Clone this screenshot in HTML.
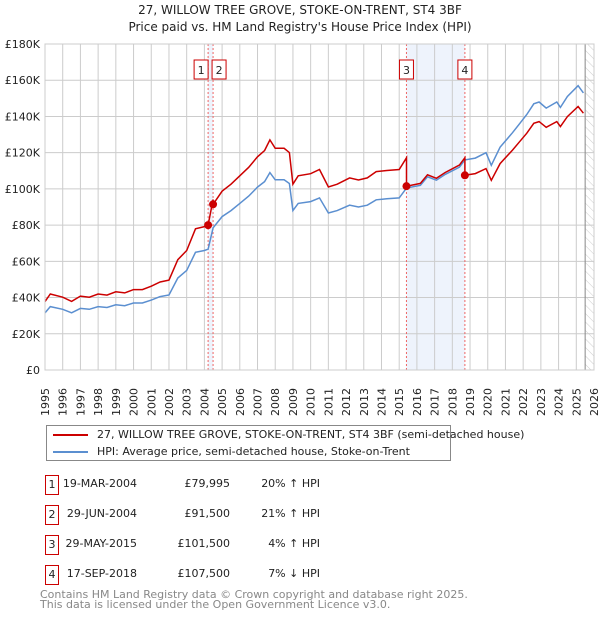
<!DOCTYPE html>
<html><head><meta charset="utf-8"><style>
body{margin:0;background:#fff;font-family:"Liberation Sans","DejaVu Sans",sans-serif;}
svg text{font-family:"DejaVu Sans","Liberation Sans",sans-serif;}
.tb div{white-space:nowrap}
</style></head><body>
<svg id="c" width="600" height="620" xmlns="http://www.w3.org/2000/svg">
<text x="300" y="14" text-anchor="middle" font-size="12" fill="#222">27, WILLOW TREE GROVE, STOKE-ON-TRENT, ST4 3BF</text>
<text x="300" y="31" text-anchor="middle" font-size="12" fill="#222">Price paid vs. HM Land Registry's House Price Index (HPI)</text>
<g id="grid"></g><g id="marks"></g>
</svg>
<script>
const years=[1995,1995.3,1996,1996.5,1997,1997.5,1998,1998.5,1999,1999.5,2000,2000.5,2001,2001.5,2002,2002.5,2003,2003.5,2004,2004.21,2004.49,2005,2005.5,2006,2006.5,2007,2007.4,2007.7,2008,2008.5,2008.8,2009,2009.3,2010,2010.5,2011,2011.5,2012.2,2012.7,2013.2,2013.7,2014.3,2015,2015.41,2016.2,2016.6,2017.1,2017.6,2018.4,2018.71,2019.3,2019.9,2020.2,2020.7,2021.4,2021.8,2022.2,2022.6,2022.9,2023.3,2023.9,2024.1,2024.5,2025.1,2025.4];
const hpi=[31.5,35,33.5,31.6,34,33.5,35,34.5,36,35.5,37,37,38.6,40.5,41.4,50.8,55,65,66,66.7,78.5,84.7,88,92,96,101,104,109,105,105,103,88,92,93,95,86.7,88,91,90,91,94,94.5,95,100.5,102,106.7,104.8,108,112,116,117,120,113,123,131,136,141,147,148,144.6,148,145,151,157,153];
const saleYears=[2004.21,2004.49,2015.41,2018.71];
const salePrices=[79995,91500,101500,107500];
const saleLabels=["1","2","3","4"];
const yTicks=[0,20000,40000,60000,80000,100000,120000,140000,160000,180000];
const yTickLabels=["£0","£20K","£40K","£60K","£80K","£100K","£120K","£140K","£160K","£180K"];
const xTicks=[];for(let y=1995;y<=2026;y++)xTicks.push(y);

const L=45,R=594,T=44,B=370,NS="http://www.w3.org/2000/svg";
const X=t=>L+(t-1995)/31*(R-L);
const Y=v=>B-v/180000*(B-T);
const svg=document.getElementById('c'),g=document.getElementById('grid'),m=document.getElementById('marks');
function el(tag,a,p){const e=document.createElementNS(NS,tag);for(const k in a)e.setAttribute(k,a[k]);(p||svg).appendChild(e);return e;}
function hpiAt(t){for(let i=0;i<years.length-1;i++)if(t<=years[i+1])return (hpi[i]+(hpi[i+1]-hpi[i])*(t-years[i])/(years[i+1]-years[i]))*1000;return hpi[hpi.length-1]*1000;}
let s1=el('rect',{x:X(saleYears[0]),y:T,width:X(saleYears[1])-X(saleYears[0]),height:B-T,fill:'#eef3fc'},g);

let s2=el('rect',{x:X(saleYears[2]),y:T,width:X(saleYears[3])-X(saleYears[2]),height:B-T,fill:'#eef3fc'},g);

let d=el('defs',{},g);let p=el('pattern',{id:'h',width:6,height:6,patternUnits:'userSpaceOnUse',patternTransform:'rotate(-45)'},d);el('line',{x1:0,y1:0,x2:0,y2:6,stroke:'#ccc','stroke-width':1},p);
let hz=el('rect',{x:X(2025.5),y:T,width:R-X(2025.5),height:B-T,fill:'url(#h)'},g);

xTicks.forEach(t=>{let l=el('line',{x1:X(t),x2:X(t),y1:T,y2:B,stroke:'#ccc'},g);

let tx=el('text',{x:0,y:0,transform:`translate(${X(t)+4},${416}) rotate(-90)`,'font-size':11,fill:'#222'});tx.textContent=t;
});
yTicks.forEach((v,i)=>{let l=el('line',{x1:L,x2:R,y1:Y(v),y2:Y(v),stroke:'#ccc'},g);

let tx=el('text',{x:40,y:Y(v)+4,'text-anchor':'end','font-size':11,fill:'#222'});tx.textContent=yTickLabels[i];
});
el('line',{x1:X(2025.5),x2:X(2025.5),y1:T,y2:B,stroke:'#888'},g);
saleYears.forEach((t,i)=>{let l=el('line',{x1:X(t),x2:X(t),y1:T,y2:B,stroke:'#e66','stroke-dasharray':'2,2'},m);

const off=i==0?-7:(i==1?6:0);
let r=el('rect',{x:X(t)-7+off,y:60,width:14,height:19,fill:'#fff',stroke:'#c00'},m);

let tx=el('text',{x:X(t)+off,y:74,'text-anchor':'middle','font-size':11,fill:'#222'},m);tx.textContent=saleLabels[i];
});
let bp=years.map((t,i)=>X(t).toFixed(1)+','+Y(hpi[i]*1000).toFixed(1)).join(' ');
let bl=el('polyline',{points:bp,fill:'none',stroke:'#5b8fd0','stroke-width':1.5},m);

function seg(t){let k=0;for(let i=0;i<saleYears.length;i++)if(t>=saleYears[i])k=i;return k;}
let pts=[],tt=Array.from(new Set(years.concat(saleYears))).sort((a,b)=>a-b);
tt.forEach(t=>{if(saleYears.includes(t)){const i=saleYears.indexOf(t);if(i>0){const pv=salePrices[i-1]*hpiAt(t)/hpiAt(saleYears[i-1]);pts.push([t,pv]);}pts.push([t,salePrices[i]]);}else{const i=seg(t);pts.push([t,salePrices[i]*hpiAt(t)/hpiAt(saleYears[i])]);}});
let rl=el('polyline',{points:pts.map(q=>X(q[0]).toFixed(1)+','+Y(q[1]).toFixed(1)).join(' '),fill:'none',stroke:'#c00','stroke-width':1.5},m);

saleYears.forEach((t,i)=>{let c=el('circle',{cx:X(t),cy:Y(salePrices[i]),r:4,fill:'#c00'},m);
});
el('rect',{x:L,y:T,width:R-L,height:B-T,fill:'none',stroke:'#ccc'},m);
</script>
<div style="position:absolute;left:46px;top:425px;width:403px;height:34px;border:1px solid #888;font-size:11px;color:#222;font-family:'DejaVu Sans',sans-serif;">
<div style="position:absolute;left:6px;top:8px;width:35px;height:2px;background:#c00"></div>
<div style="position:absolute;left:50px;top:2px;white-space:nowrap;font-size:11px">27, WILLOW TREE GROVE, STOKE-ON-TRENT, ST4 3BF (semi-detached house)</div>
<div style="position:absolute;left:6px;top:25px;width:35px;height:2px;background:#5b8fd0"></div>
<div style="position:absolute;left:50px;top:19px;white-space:nowrap;font-size:11px">HPI: Average price, semi-detached house, Stoke-on-Trent</div>
</div>
<div class="tb" style="position:absolute;left:0;top:0;font-family:'DejaVu Sans',sans-serif;font-size:11px;color:#222;">
<div style="position:absolute;left:45px;top:475px;width:12px;height:18px;border:1px solid #c00;text-align:center;line-height:18px">1</div>
<div style="position:absolute;left:57px;top:477px;width:80px;text-align:right">19-MAR-2004</div><div style="position:absolute;left:170px;top:477px;width:60px;text-align:right">£79,995</div><div style="position:absolute;left:250px;top:477px;width:70px;text-align:right">20% ↑ HPI</div>
<div style="position:absolute;left:45px;top:505px;width:12px;height:18px;border:1px solid #c00;text-align:center;line-height:18px">2</div>
<div style="position:absolute;left:57px;top:507px;width:80px;text-align:right">29-JUN-2004</div><div style="position:absolute;left:170px;top:507px;width:60px;text-align:right">£91,500</div><div style="position:absolute;left:250px;top:507px;width:70px;text-align:right">21% ↑ HPI</div>
<div style="position:absolute;left:45px;top:535px;width:12px;height:18px;border:1px solid #c00;text-align:center;line-height:18px">3</div>
<div style="position:absolute;left:57px;top:537px;width:80px;text-align:right">29-MAY-2015</div><div style="position:absolute;left:170px;top:537px;width:60px;text-align:right">£101,500</div><div style="position:absolute;left:250px;top:537px;width:70px;text-align:right">4% ↑ HPI</div>
<div style="position:absolute;left:45px;top:565px;width:12px;height:18px;border:1px solid #c00;text-align:center;line-height:18px">4</div>
<div style="position:absolute;left:57px;top:567px;width:80px;text-align:right">17-SEP-2018</div><div style="position:absolute;left:170px;top:567px;width:60px;text-align:right">£107,500</div><div style="position:absolute;left:250px;top:567px;width:70px;text-align:right">7% ↓ HPI</div>
</div>
<div style="position:absolute;left:40px;top:590px;font-family:'DejaVu Sans',sans-serif;font-size:11px;color:#888;line-height:10px">Contains HM Land Registry data © Crown copyright and database right 2025.<br>This data is licensed under the Open Government Licence v3.0.</div>
</body></html>
